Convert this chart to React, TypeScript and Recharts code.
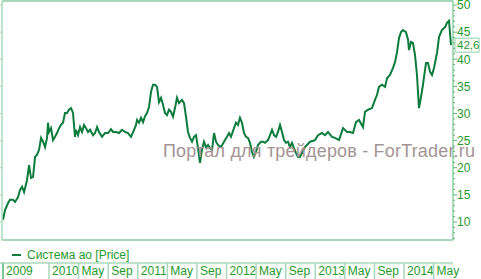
import React from "react";
import { LineChart, Line, XAxis, YAxis, ReferenceLine, ReferenceDot } from "recharts";

// months counted from Jan 2009 (12 = Jan 2010 ...)
const months = [
  5.78, 6.05, 6.46, 6.73, 7.13, 7.4, 7.81, 8.08, 8.35, 8.62, 9.02, 9.3, 9.57, 9.84, 10.11, 10.38, 10.65, 10.92, 11.19, 11.46,
  11.73, 11.86, 12.0, 12.27, 12.54, 12.81, 13.08, 13.35, 13.62, 13.89, 14.16, 14.43, 14.7, 14.97, 15.24, 15.51, 15.65, 15.92, 16.19, 16.46,
  16.73, 17.0, 17.27, 17.54, 17.95, 18.22, 18.49, 18.76, 19.16, 19.57, 19.98, 20.38, 20.65, 21.06, 21.46, 21.87, 22.27, 22.68, 23.08, 23.49,
  23.76, 23.9, 24.17, 24.44, 24.71, 24.98, 25.25, 25.52, 25.79, 26.06, 26.33, 26.6, 26.87, 27.14, 27.41, 27.68, 27.95, 28.22, 28.49, 28.76,
  29.03, 29.3, 29.57, 29.98, 30.25, 30.52, 30.79, 31.06, 31.33, 31.6, 31.87, 32.14, 32.41, 32.68, 32.95, 33.22, 33.5, 33.77, 34.04, 34.31,
  34.58, 34.85, 35.25, 35.66, 36.06, 36.33, 36.6, 37.01, 37.28, 37.55, 37.82, 38.09, 38.36, 38.63, 38.9, 39.17, 39.44, 39.71, 39.98, 40.25,
  40.66, 40.93, 41.2, 41.61, 41.88, 42.15, 42.42, 42.69, 42.96, 43.23, 43.5, 43.77, 44.04, 44.31, 44.58, 44.85, 45.12, 45.39, 45.66, 45.93,
  46.61, 47.29, 47.96, 48.37, 48.91, 49.31, 49.72, 50.26, 50.67, 51.21, 51.75, 52.29, 52.69, 53.1, 53.5, 53.91, 54.45, 54.72, 55.13, 55.67,
  56.07, 56.34, 56.61, 57.02, 57.43, 57.7, 58.1, 58.51, 58.78, 59.05, 59.32, 59.59, 59.86, 60.26, 60.54, 60.67, 60.94, 61.21, 61.48, 61.75,
  62.02, 62.29, 62.56, 62.7, 62.97, 63.24, 63.51, 63.78, 64.05, 64.46, 64.73, 65.13, 65.54, 65.81, 66.08, 66.35,
];

const prices = [
  10.4, 12.2, 13.5, 14.1, 14.1, 13.7, 14.6, 15.9, 16.5, 15.5, 17.7, 20.5, 18.1, 18.3, 22.0, 22.4, 23.3, 25.5, 24.8, 23.8,
  25.5, 28.3, 26.6, 27.3, 25.1, 25.7, 26.4, 27.3, 27.9, 28.3, 30.1, 30.1, 30.7, 31.0, 30.1, 25.7, 27.0, 26.0, 27.5, 26.6,
  27.9, 27.3, 26.6, 27.0, 26.0, 26.4, 27.5, 26.6, 25.7, 26.4, 26.4, 27.1, 26.6, 26.6, 26.4, 27.0, 26.6, 26.4, 25.7, 27.0,
  27.9, 28.8, 28.3, 29.2, 28.4, 29.5, 30.1, 31.2, 34.0, 35.3, 35.3, 34.9, 32.1, 32.9, 31.6, 30.1, 29.7, 30.7, 30.3, 29.4,
  31.0, 32.9, 31.9, 32.5, 31.9, 29.4, 26.6, 25.5, 24.8, 25.7, 26.0, 23.6, 20.9, 23.3, 24.8, 23.8, 24.2, 23.6, 23.3, 26.4,
  24.8, 24.2, 23.8, 24.8, 25.7, 26.4, 25.7, 27.3, 28.3, 27.9, 29.2, 28.3, 26.4, 25.7, 25.5, 24.6, 22.9, 22.0, 22.9, 24.2,
  24.8, 24.8, 24.6, 25.1, 26.0, 27.0, 26.0, 25.7, 26.6, 27.9, 26.6, 25.1, 24.6, 24.8, 23.8, 24.6, 23.6, 22.7, 22.0, 22.0,
  23.8, 24.8, 25.1, 26.0, 26.4, 26.0, 26.6, 25.7, 25.5, 25.1, 27.3, 26.6, 26.6, 26.4, 28.4, 28.8, 27.5, 30.3, 30.7, 31.0,
  32.5, 33.4, 34.9, 35.3, 34.9, 36.5, 37.1, 38.4, 39.5, 41.3, 43.9, 45.0, 45.4, 45.0, 43.6, 41.7, 43.2, 43.0, 40.8, 37.1,
  31.0, 33.0, 35.3, 36.7, 39.3, 39.3, 37.7, 37.1, 38.4, 41.2, 44.1, 45.4, 45.9, 46.7, 47.1, 42.6,
];

const tickMonths = [5.78, 12, 16, 20, 24, 28, 32, 36, 40, 44, 48, 52, 56, 60, 64];
const tickLabels = ["2009", "2010", "May", "Sep", "2011", "May", "Sep", "2012", "May", "Sep", "2013", "May", "Sep", "2014", "May"];
const priceTicks = Array.from({ length: 44 }, (_, i) => i + 7);

const seriesName = "Система ао [Price]";
const watermark = "Портал для трейдеров - ForTrader.ru";

const data = months.map((m, i) => ({ m, price: prices[i] }));
const last = data[data.length - 1];

const FONT = "'Liberation Sans', Arial, sans-serif";
const LINE = "#0b7c3c";
const TEXT = "#1f9a2b";
const PALE = "#a8d8bb";
const AXIS = "#5ab67a";

// eslint-disable-next-line @typescript-eslint/no-explicit-any
const MonthTick = ({ x, y, index }: any) => (
  <g>
    {index === 0 && <line x1={0} x2={453} y1={y + 23} y2={y + 23} stroke={PALE} strokeWidth={1.5} />}
    <line x1={x} x2={x} y1={y + 23} y2={y + 39} stroke={index === 0 ? "#7cc596" : PALE} strokeWidth={index === 0 ? 2 : 1.5} />
    <text x={x + 3} y={y + 35} fill={TEXT} fontSize={12} fontFamily={FONT}>{tickLabels[index]}</text>
  </g>
);

// eslint-disable-next-line @typescript-eslint/no-explicit-any
const PriceTick = ({ x, y, payload }: any) => {
  const major = payload.value % 5 === 0;
  return (
    <g>
      <line x1={x} x2={x + (major ? 4 : 2)} y1={y} y2={y} stroke={AXIS} strokeWidth={1} />
      {major && (
        <text x={x + 4} y={y} dy="0.36em" fill={TEXT} fontSize={12} fontFamily={FONT}>{payload.value}</text>
      )}
    </g>
  );
};

// eslint-disable-next-line @typescript-eslint/no-explicit-any
const LastBadge = ({ cx, cy }: any) => (
  <g>
    <rect x={cx + 4} y={cy - 7} width={24} height={14} fill="#fff" stroke="#8fcfa6" strokeWidth={1} />
    <text x={cx + 6} y={cy} dy="0.36em" fill={TEXT} fontSize={11.5} fontFamily={FONT}>
      {last.price.toFixed(1).replace(".", ",")}
    </text>
  </g>
);

export default function App() {
  return (
    <div style={{ position: "absolute", left: 0, top: 0, width: 481, height: 279, background: "#fff" }}>
      <LineChart width={481} height={279} data={data} margin={{ top: 1, right: 0, bottom: 0, left: 0 }}>
        <XAxis
          dataKey="m"
          type="number"
          domain={[5.64, 66.62]}
          ticks={tickMonths}
          interval={0}
          height={39}
          tickSize={0}
          tickMargin={0}
          tickLine={false}
          axisLine={{ stroke: PALE, strokeWidth: 2 }}
          tick={<MonthTick />}
        />
        <YAxis
          yAxisId="left"
          orientation="left"
          width={2}
          domain={[6.68, 50.74]}
          ticks={priceTicks}
          tickSize={2}
          tickLine={{ stroke: PALE }}
          axisLine={{ stroke: PALE, strokeWidth: 1.5 }}
          tick={() => <g />}
          allowDataOverflow
        />
        <YAxis
          yAxisId="right"
          orientation="right"
          width={28}
          domain={[6.68, 50.74]}
          ticks={priceTicks}
          interval={0}
          tickSize={0}
          tickMargin={0}
          tickLine={false}
          axisLine={{ stroke: AXIS }}
          tick={<PriceTick />}
          allowDataOverflow
        />
        <ReferenceLine yAxisId="right" y={50.74} stroke={PALE} strokeWidth={2} />
        <Line
          yAxisId="right"
          type="linear"
          dataKey="price"
          stroke={LINE}
          strokeWidth={2}
          dot={false}
          isAnimationActive={false}
        />
        <ReferenceDot
          yAxisId="right"
          x={last.m}
          y={last.price}
          ifOverflow="visible"
          shape={<LastBadge />}
        />
      </LineChart>
      <svg width={481} height={279} style={{ position: "absolute", left: 0, top: 0, pointerEvents: "none" }}>
        <text x={163} y={157} fill="#a39494" fontSize={18} fontFamily={FONT} textLength={312} lengthAdjust="spacing">
          {watermark}
        </text>
      </svg>
      <div style={{ position: "absolute", left: 12, top: 248, display: "flex", alignItems: "center", fontFamily: FONT, fontSize: 12, color: TEXT }}>
        <span style={{ display: "inline-block", width: 9, height: 2, background: LINE, marginRight: 6 }} />
        {seriesName}
      </div>
    </div>
  );
}
